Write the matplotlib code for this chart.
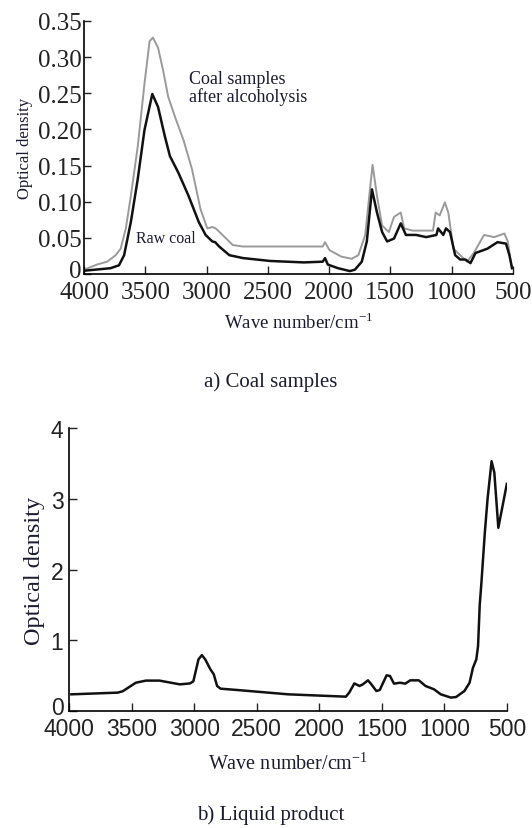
import numpy as np
import matplotlib.pyplot as plt
import matplotlib.transforms as mtransforms

plt.rcParams['font.family'] = ['Liberation Serif', 'DejaVu Serif']
plt.rcParams['mathtext.fontset'] = 'stix'

# a) coal samples - raw coal (black)
raw_wn = [4000, 3784, 3715, 3673, 3618, 3562, 3507, 3443, 3396, 3340, 3299, 3230,
          3147, 3064, 3008, 2953, 2930, 2897, 2814, 2703, 2481, 2205, 2052, 2033,
          2010, 1927, 1830, 1789, 1733, 1692, 1650, 1609, 1567, 1526, 1470, 1415,
          1373, 1290, 1207, 1124, 1110, 1068, 1046, 1013, 971, 930, 888, 846, 805,
          708, 625, 556, 528, 506]
raw_od = [0.0045, 0.008, 0.012, 0.026, 0.072, 0.131, 0.199, 0.249, 0.231, 0.19,
          0.163, 0.14, 0.108, 0.072, 0.054, 0.045, 0.044, 0.038, 0.026, 0.022,
          0.018, 0.016, 0.017, 0.022, 0.013, 0.008, 0.004, 0.006, 0.017, 0.045,
          0.117, 0.085, 0.058, 0.045, 0.049, 0.07, 0.054, 0.054, 0.051, 0.054,
          0.063, 0.054, 0.063, 0.058, 0.026, 0.02, 0.02, 0.015, 0.029, 0.035,
          0.044, 0.042, 0.026, 0.008]

# a) coal samples after alcoholysis (grey)
alc_wn = [4000, 3895, 3812, 3742, 3701, 3659, 3618, 3562, 3507, 3465, 3438, 3396,
          3354, 3313, 3257, 3188, 3119, 3050, 2994, 2953, 2925, 2870, 2786, 2703,
          2205, 2052, 2033, 1997, 1900, 1816, 1761, 1705, 1672, 1645, 1609, 1567,
          1512, 1470, 1415, 1387, 1318, 1152, 1130, 1097, 1055, 1027, 985, 930,
          874, 819, 735, 652, 569, 541, 510]
alc_od = [0.006, 0.013, 0.017, 0.026, 0.035, 0.063, 0.108, 0.176, 0.263, 0.322,
          0.327, 0.313, 0.281, 0.245, 0.217, 0.185, 0.145, 0.09, 0.063, 0.065,
          0.063, 0.054, 0.04, 0.038, 0.038, 0.038, 0.044, 0.033, 0.024, 0.021,
          0.026, 0.054, 0.108, 0.151, 0.108, 0.067, 0.058, 0.079, 0.085, 0.063,
          0.06, 0.06, 0.085, 0.081, 0.099, 0.085, 0.035, 0.026, 0.017, 0.029,
          0.054, 0.051, 0.056, 0.045, 0.008]

# b) liquid product
liq_wn = [3981, 3610, 3570, 3466, 3385, 3277, 3114, 3033, 3006, 2965, 2938, 2911,
          2870, 2843, 2816, 2789, 2654, 2247, 1787, 1760, 1719, 1678, 1651, 1610,
          1583, 1543, 1516, 1489, 1461, 1434, 1402, 1353, 1312, 1272, 1204, 1150,
          1082, 1028, 947, 906, 839, 798, 771, 744, 730, 717, 703, 676, 654, 622,
          600, 568, 500]
liq_od = [0.236, 0.26, 0.28, 0.40, 0.43, 0.43, 0.377, 0.39, 0.42, 0.73, 0.79, 0.73,
          0.59, 0.52, 0.354, 0.316, 0.297, 0.236, 0.203, 0.26, 0.39, 0.354, 0.377,
          0.434, 0.377, 0.283, 0.297, 0.40, 0.505, 0.495, 0.387, 0.40, 0.387, 0.434,
          0.434, 0.354, 0.307, 0.236, 0.19, 0.198, 0.283, 0.40, 0.61, 0.73, 0.92,
          1.49, 1.82, 2.52, 3.0, 3.53, 3.37, 2.59, 3.21]

xticks = [4000, 3500, 3000, 2500, 2000, 1500, 1000, 500]
ticks_a = [0, 0.05, 0.10, 0.15, 0.20, 0.25, 0.30, 0.35]
labels_a = ['0', '0.05', '0.10', '0.15', '0.20', '0.25', '0.30', '0.35']
ticks_b = [0, 1, 2, 3, 4]
txt = '#1c1c30'
xlab = 'Wave number/cm$^{\\mathregular{-1}}$'

fig = plt.figure(figsize=(5.32, 8.29), dpi=100)

# top panel
ax1 = fig.add_axes([0.158, 0.6683, 0.806, 0.3052])
ax1.plot(alc_wn, alc_od, color='#9a9a9a', lw=1.4)
ax1.plot(raw_wn, raw_od, color='#111111', lw=1.8)
ax1.set_xlim(4000, 500)
ax1.set_ylim(0, 0.35)
ax1.set_xticks(xticks)
ax1.set_yticks(ticks_a)
ax1.set_yticklabels(labels_a)
ax1.tick_params(axis='x', direction='in', length=6, width=1, labelsize=18,
                colors='#222222', pad=5)
ax1.tick_params(axis='y', direction='in', length=5, width=1, labelsize=18,
                colors='#222222', pad=2)
ax1.set_ylabel('Optical density', fontsize=12, color=txt, labelpad=3)
ax1.set_xlabel(xlab, fontsize=13.5, color=txt, labelpad=6)
ax1.text(3143, 0.239, 'Coal samples\nafter alcoholysis', fontsize=13, color=txt,
         va='baseline', linespacing=1.05)
ax1.text(3576, 0.05, 'Raw coal', fontsize=11.5, color=txt, va='center')

# bottom panel
ax2 = fig.add_axes([0.1297, 0.1411, 0.823, 0.3414])
ax2.plot(liq_wn, liq_od, color='#111111', lw=1.8)
ax2.set_xlim(4000, 500)
ax2.set_ylim(0, 4)
ax2.set_xticks(xticks)
ax2.set_yticks(ticks_b)
ax2.tick_params(direction='in', length=6, width=1, labelsize=16.5, colors='#222222')
ax2.tick_params(axis='x', pad=4)
ax2.tick_params(axis='y', pad=4)
for lab in ax2.get_xticklabels() + ax2.get_yticklabels():
    lab.set_family(['Liberation Sans', 'DejaVu Sans'])
ax2.set_ylabel('Optical density', fontsize=17.5, color=txt, labelpad=4)
ax2.set_xlabel(xlab, fontsize=14.5, color=txt, labelpad=9)

for ax in (ax1, ax2):
    ax.spines['top'].set_visible(False)
    ax.spines['right'].set_visible(False)
    ax.spines['left'].set_linewidth(1.2)
    ax.spines['bottom'].set_linewidth(1.2)
    # the "0" label sits a little higher, just above the 4000 label
    shift = mtransforms.ScaledTranslation(0, 4 / 72, fig.dpi_scale_trans)
    zero = ax.get_yticklabels()[0]
    zero.set_transform(zero.get_transform() + shift)

fig.text(271 / 532, 1 - 382 / 829, 'a) Coal samples', ha='center', va='center',
         fontsize=15, color=txt)
fig.text(271 / 532, 1 - 815 / 829, 'b) Liquid product', ha='center', va='center',
         fontsize=15, color=txt)

fig.savefig('out.png', dpi=100)
